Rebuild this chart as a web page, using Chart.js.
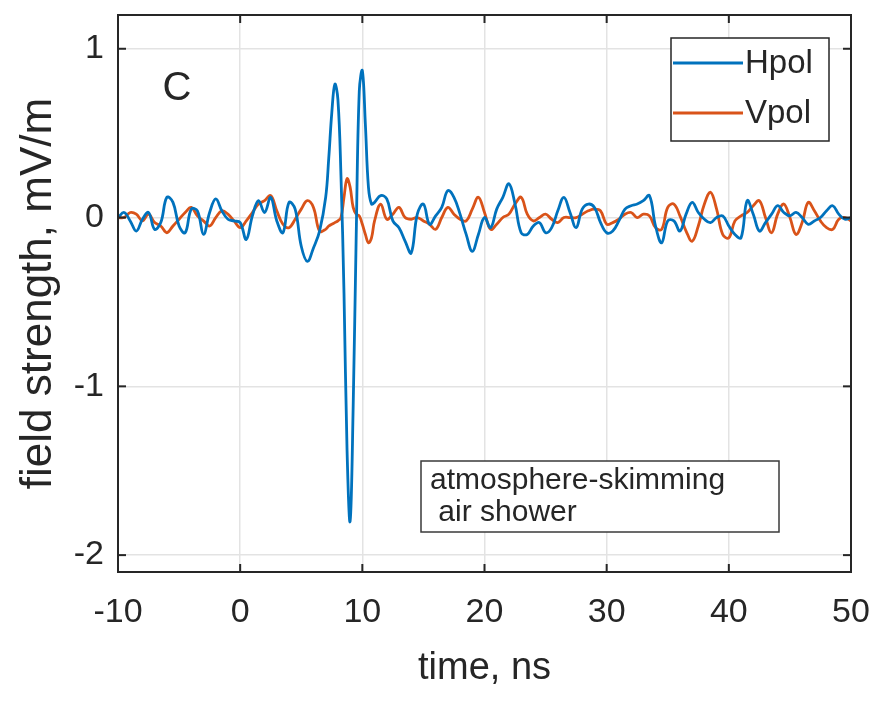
<!DOCTYPE html>
<html>
<head>
<meta charset="utf-8">
<script src="https://cdn.jsdelivr.net/npm/chart.js@4.4.1/dist/chart.umd.min.js"></script>
<style>
html, body { margin: 0; padding: 0; background: #fff; }
</style>
</head>
<body>
<canvas id="myChart" width="874" height="701"></canvas>
<script>
// time axis, ns (finer sampling around the pulse)
var times = [
  -10, -9.5, -9, -8.5, -8, -7.5, -7, -6.5, -6, -5.5, -5, -4.5, -4, -3.5, -3, -2.5, -2, -1.5, -1, -0.5,
  0, 0.5, 1, 1.5, 2, 2.5, 3, 3.5, 4, 4.5, 5, 5.5, 6, 6.5, 7,
  7.25, 7.5, 7.75, 8, 8.25, 8.5, 8.75, 9, 9.25, 9.5, 9.75, 10, 10.25, 10.5, 10.75, 11,
  11.5, 12, 12.5, 13, 13.5, 14, 14.5, 15, 15.5, 16, 16.5, 17, 17.5, 18, 18.5, 19, 19.5, 20,
  20.5, 21, 21.5, 22, 22.5, 23, 23.5, 24, 24.5, 25, 25.5, 26, 26.5, 27, 27.5, 28, 28.5, 29, 29.5, 30,
  30.5, 31, 31.5, 32, 32.5, 33, 33.5, 34, 34.5, 35, 35.5, 36, 36.5, 37, 37.5, 38, 38.5, 39, 39.5, 40,
  40.5, 41, 41.5, 42, 42.5, 43, 43.5, 44, 44.5, 45, 45.5, 46, 46.5, 47, 47.5, 48, 48.5, 49, 49.5, 50
];

// field strength, mV/m
var hpol = [
  0.00, 0.03, -0.02, -0.08, -0.01, 0.03, -0.07, -0.03, 0.12, 0.09, -0.05, -0.09, 0.05, 0.04, -0.10, 0.03, 0.11, 0.04, -0.01, -0.02,
  -0.03, -0.13, 0.01, 0.10, 0.03, 0.12, -0.02, -0.09, 0.09, 0.05, -0.17, -0.26, -0.18, -0.08, 0.12,
  0.35, 0.62, 0.79, 0.70, 0.25, -0.45, -1.38, -1.80, -1.12, -0.10, 0.75, 0.87, 0.55, 0.18, 0.08, 0.09,
  0.13, 0.11, -0.02, -0.06, -0.14, -0.21, 0.02, 0.08, -0.04, 0.01, 0.06, 0.16, 0.12, 0.02, -0.10, -0.20, -0.10, 0.00,
  -0.06, 0.05, 0.12, 0.20, 0.08, -0.09, -0.10, -0.05, -0.03, -0.09, -0.06, 0.04, 0.12, 0.03, -0.06, 0.05, 0.08, 0.06, -0.03, -0.09,
  -0.08, -0.02, 0.05, 0.07, 0.08, 0.10, 0.13, -0.05, -0.15, -0.02, -0.02, -0.08, 0.02, 0.09, 0.03, -0.01, -0.03, 0.00, 0.01, -0.05,
  -0.10, -0.12, 0.10, 0.02, -0.08, -0.03, 0.02, 0.07, 0.03, 0.01, 0.03, 0.00, -0.04, -0.02, 0.00, 0.04, 0.07, 0.02, -0.01, 0.00
];

var vpol = [
  0.00, 0.00, 0.03, 0.02, -0.02, 0.02, -0.03, -0.05, -0.09, -0.05, -0.01, 0.03, 0.06, 0.01, -0.02, -0.05, 0.00, 0.04, 0.02, -0.02,
  -0.06, -0.02, 0.03, 0.08, 0.10, 0.13, 0.04, -0.04, -0.06, -0.01, 0.05, 0.10, 0.06, -0.08, -0.07,
  -0.05, -0.04, -0.03, -0.02, 0.00, 0.12, 0.23, 0.18, 0.06, 0.02, 0.01, -0.04, -0.10, -0.15, -0.12, -0.02,
  0.08, -0.01, 0.02, 0.06, 0.00, -0.01, 0.00, -0.02, -0.04, -0.07, 0.00, 0.06, 0.02, -0.01, -0.02, 0.05, 0.12, 0.03,
  -0.07, -0.04, 0.00, 0.02, 0.08, 0.12, 0.02, -0.02, 0.00, 0.02, -0.01, -0.03, 0.00, 0.00, 0.00, 0.02, 0.04, 0.05, 0.04, -0.04,
  -0.03, -0.01, 0.02, 0.03, 0.00, 0.02, 0.01, -0.06, -0.07, 0.06, 0.08, 0.01, -0.08, -0.14, -0.05, 0.08, 0.15, 0.05, -0.10, -0.12,
  -0.02, 0.01, 0.03, 0.07, 0.10, 0.00, -0.09, 0.02, 0.08, 0.00, -0.10, -0.03, 0.09, 0.04, -0.02, -0.06, -0.07, -0.01, 0.00, -0.02
];

var seriesNames = ["Hpol", "Vpol"];
var seriesColors = ["#0072BD", "#D95319"];
var xTickValues = [-10, 0, 10, 20, 30, 40, 50];
var yTickValues = [-2, -1, 0, 1];
var panelLabel = "C";
var noteLines = ["atmosphere-skimming", " air shower"];

var fontName = '"Liberation Sans", Arial, Helvetica, sans-serif';
var ink = "#262626";

function toPoints(xs, ys) {
  var out = [];
  for (var i = 0; i < xs.length; i++) out.push({ x: xs[i], y: ys[i] });
  return out;
}

function seg(ctx, x1, y1, x2, y2) {
  ctx.beginPath();
  ctx.moveTo(x1, y1);
  ctx.lineTo(x2, y2);
  ctx.stroke();
}

// axes box, inward ticks, panel label, legend and note box
var matlabExtras = {
  id: "matlabExtras",
  afterDraw: function(chart) {
    var ctx = chart.ctx;
    var a = chart.chartArea;
    var xs = chart.scales.x, ys = chart.scales.y;
    ctx.save();

    ctx.strokeStyle = ink;
    ctx.lineWidth = 2;
    ctx.strokeRect(a.left, a.top, a.right - a.left, a.bottom - a.top);

    var tl = 8;
    xTickValues.forEach(function(v) {
      var px = xs.getPixelForValue(v);
      seg(ctx, px, a.bottom, px, a.bottom - tl);
      seg(ctx, px, a.top, px, a.top + tl);
    });
    yTickValues.forEach(function(v) {
      var py = ys.getPixelForValue(v);
      seg(ctx, a.left, py, a.left + tl, py);
      seg(ctx, a.right, py, a.right - tl, py);
    });

    ctx.fillStyle = ink;
    ctx.font = "40px " + fontName;
    ctx.textAlign = "center";
    ctx.textBaseline = "middle";
    ctx.fillText(panelLabel, 177, 89);

    // legend
    var lx = 671, ly = 38, lw = 158, lh = 103;
    ctx.fillStyle = "#fff";
    ctx.fillRect(lx, ly, lw, lh);
    ctx.strokeStyle = ink;
    ctx.lineWidth = 1.5;
    ctx.strokeRect(lx, ly, lw, lh);
    ctx.font = "33px " + fontName;
    ctx.textAlign = "left";
    chart.data.datasets.forEach(function(ds, i) {
      var yy = ly + 25 + i * 50;
      ctx.strokeStyle = ds.borderColor;
      ctx.lineWidth = 2.8;
      seg(ctx, lx + 2, yy, lx + 72, yy);
      ctx.fillStyle = ink;
      ctx.fillText(ds.label, lx + 74, yy + 1);
    });

    // note box
    var bx = 421, by = 461, bw = 358, bh = 71;
    ctx.fillStyle = "#fff";
    ctx.fillRect(bx, by, bw, bh);
    ctx.strokeStyle = "#3a3a3a";
    ctx.lineWidth = 1.5;
    ctx.strokeRect(bx, by, bw, bh);
    ctx.fillStyle = ink;
    ctx.font = "30px " + fontName;
    noteLines.forEach(function(t, i) {
      ctx.fillText(t, bx + 9, by + 20 + i * 32);
    });

    ctx.restore();
  }
};

var ctx = document.getElementById("myChart");

var myChart = new Chart(ctx, {
  type: "line",
  data: {
    datasets: [
      {
        label: seriesNames[0],
        data: toPoints(times, hpol),
        borderColor: seriesColors[0],
        borderWidth: 2.8,
        pointRadius: 0,
        tension: 0.4,
        fill: false
      },
      {
        label: seriesNames[1],
        data: toPoints(times, vpol),
        borderColor: seriesColors[1],
        borderWidth: 2.8,
        pointRadius: 0,
        tension: 0.4,
        fill: false
      }
    ]
  },
  options: {
    responsive: false,
    animation: false,
    layout: { padding: { top: 15, right: 23, left: 0, bottom: 0 } },
    plugins: {
      legend: { display: false },
      tooltip: { enabled: false }
    },
    scales: {
      x: {
        type: "linear",
        min: -10,
        max: 50,
        afterBuildTicks: function(scale) {
          scale.ticks = xTickValues.map(function(v) { return { value: v }; });
        },
        afterFit: function(scale) {
          scale.height = 129;
          scale.paddingLeft = 0;
          scale.paddingRight = 0;
        },
        grid: { color: "#e3e3e3", lineWidth: 1.5, drawTicks: false },
        border: { display: true, color: ink, width: 2 },
        ticks: {
          color: ink,
          padding: 20,
          maxRotation: 0,
          font: { family: fontName, size: 34 }
        },
        title: {
          display: true,
          text: "time, ns",
          color: ink,
          padding: { top: 0, bottom: 10 },
          font: { family: fontName, size: 38 }
        }
      },
      y: {
        min: -2.1,
        max: 1.2,
        afterBuildTicks: function(scale) {
          scale.ticks = yTickValues.map(function(v) { return { value: v }; });
        },
        afterFit: function(scale) {
          scale.width = 118;
          scale.paddingTop = 0;
          scale.paddingBottom = 0;
        },
        grid: { color: "#e3e3e3", lineWidth: 1.5, drawTicks: false },
        border: { display: true, color: ink, width: 2 },
        ticks: {
          color: ink,
          padding: 14,
          font: { family: fontName, size: 34 }
        },
        title: {
          display: true,
          text: "field strength, mV/m",
          color: ink,
          padding: { top: 12, bottom: 0 },
          font: { family: fontName, size: 44 }
        }
      }
    }
  },
  plugins: [matlabExtras]
});
</script>
</body>
</html>
